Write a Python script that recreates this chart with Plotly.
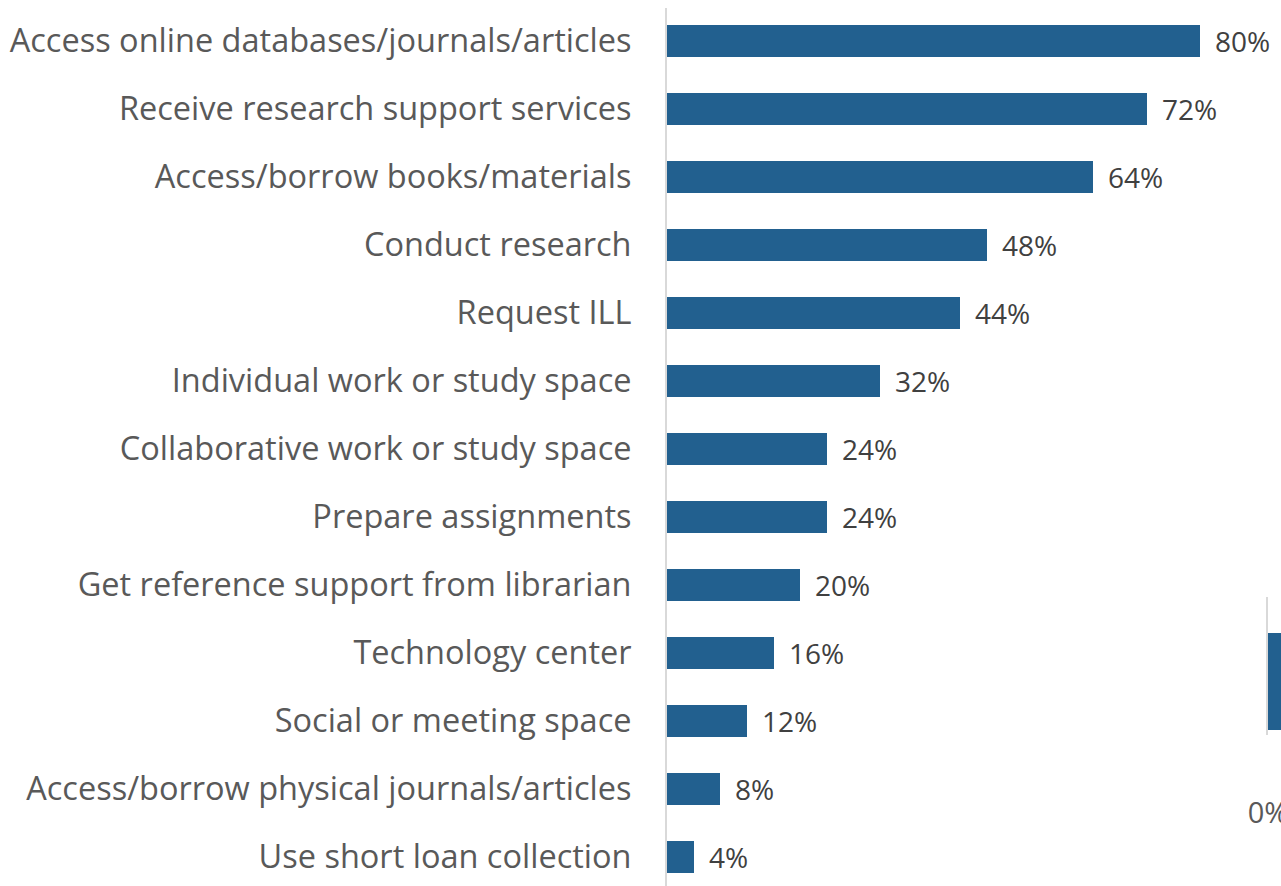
import plotly.graph_objects as go

categories = [
    "Access online databases/journals/articles",
    "Receive research support services",
    "Access/borrow books/materials",
    "Conduct research",
    "Request ILL",
    "Individual work or study space",
    "Collaborative work or study space",
    "Prepare assignments",
    "Get reference support from librarian",
    "Technology center",
    "Social or meeting space",
    "Access/borrow physical journals/articles",
    "Use short loan collection",
]
values = [80, 72, 64, 48, 44, 32, 24, 24, 20, 16, 12, 8, 4]

# partially visible neighbouring chart at the right edge
side_categories = ["A"]
side_values = [50]
side_ticks = [0]
side_ticktext = ["0%"]

BAR = "#22608F"
FONT = "Open Sans"
W, H = 1281, 886
LEFT = 667
TOP = 8
plot_w = W - LEFT

fig = go.Figure()
fig.add_trace(go.Bar(
    x=values, y=categories, orientation="h",
    marker=dict(color=BAR, line=dict(width=0)),
    width=0.485, showlegend=False, hoverinfo="x+y",
))
fig.add_trace(go.Bar(
    x=side_values, y=side_categories, orientation="h",
    marker=dict(color=BAR, line=dict(width=0)),
    width=1.0, showlegend=False, xaxis="x2", yaxis="y2",
))

for c, v in zip(categories, values):
    fig.add_annotation(
        x=v, y=c, xref="x", yref="y", text=f"{v}%", showarrow=False,
        xanchor="left", yanchor="middle", xshift=13,
        font=dict(family=FONT, size=28, color="#404040"),
    )

fig.update_layout(
    width=W, height=H,
    margin=dict(l=LEFT, r=0, t=0, b=0, pad=0),
    plot_bgcolor="white", paper_bgcolor="white",
    bargap=0,
    xaxis=dict(domain=[0, 1], range=[0, plot_w / 6.6625], visible=False,
               showgrid=False, zeroline=False, automargin=False),
    yaxis=dict(domain=[0, 1 - TOP / H], type="category",
               categoryorder="array", categoryarray=categories,
               range=[(H - 41) / 68, (TOP - 41) / 68],
               showline=True, linecolor="#D9D9D9", linewidth=2,
               showgrid=False, zeroline=False, ticks="", automargin=False,
               ticklabelstandoff=27,
               tickfont=dict(family=FONT, size=32.5, color="#595959")),
    xaxis2=dict(domain=[601 / plot_w, 1], range=[0, 10],
                anchor="y2", showgrid=False, zeroline=False, automargin=False,
                showline=False, tickvals=side_ticks, ticktext=side_ticktext,
                ticks="", ticklabelstandoff=58, ticklabeloverflow="allow",
                tickfont=dict(family=FONT, size=29, color="#595959")),
    yaxis2=dict(domain=[1 - 735 / H, 1 - 597 / H], anchor="x2",
                type="category", range=[-0.55, 0.87], automargin=False,
                showline=True, linecolor="#D9D9D9", linewidth=2,
                showticklabels=False, showgrid=False, zeroline=False,
                ticks=""),
)

fig.write_html(
    "out.html",
    config={"displayModeBar": False},
    post_script="document.body.style.margin='0';document.body.style.overflow='hidden';",
)
